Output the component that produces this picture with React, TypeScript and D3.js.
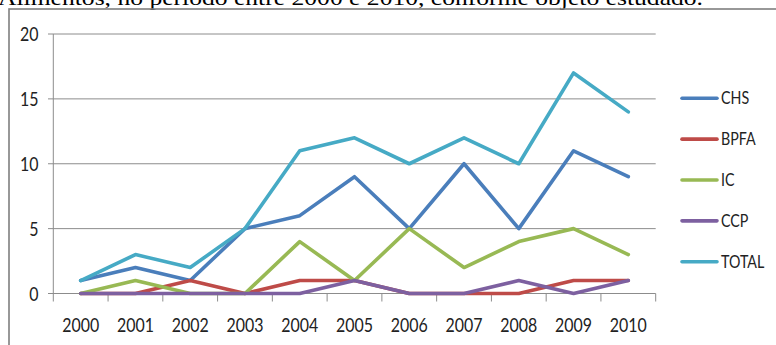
import React from "react";
import * as d3 from "d3";

const years = ["2000","2001","2002","2003","2004","2005","2006","2007","2008","2009","2010"];
const chs = [1,2,1,5,6,9,5,10,5,11,9];
const bpfa = [0,0,1,0,1,1,0,0,0,1,1];
const ic = [0,1,0,0,4,1,5,2,4,5,3];
const ccp = [0,0,0,0,0,1,0,0,1,0,1];
const total = [1,3,2,5,11,12,10,12,10,17,14];
const yTicks = [0,5,10,15,20];
const seriesNames = ["CHS","BPFA","IC","CCP","TOTAL"];
const seriesValues = [chs, bpfa, ic, ccp, total];
const colors = ["#4A7EBB","#BE4B48","#98B954","#7D60A0","#46AAC5"];
const caption = "Alimentos, no período entre 2000 e 2010, conforme objeto estudado.";

export default function App() {
  const W = 776, H = 345;
  const left = 53.3, right = 655.7, top = 34, bottom = 293.5;
  const x = d3.scaleBand<string>().domain(years).range([left, right]);
  const y = d3.scaleLinear().domain([0, 20]).range([bottom, top]);
  const line = d3.line<number>()
    .x((_, i) => (x(years[i]) as number) + x.bandwidth() / 2)
    .y((v) => y(v));
  const font = "Lato, 'Open Sans', sans-serif";
  const sx = 0.84;
  const grid = "#8C8C8C";
  const legendY = d3.scalePoint<string>().domain(seriesNames).range([98.3, 261.7]);
  const xTickPos = years.map((yr) => x(yr) as number).concat([right]);
  return (
    <svg width={W} height={H} style={{ position: "absolute", left: 0, top: 0, background: "#fff" }}>
      <text x={-2} y={5} fontFamily="'Liberation Serif', 'Times New Roman', serif" fontSize={22}
        textLength={705} lengthAdjust="spacingAndGlyphs" fill="#000">{caption}</text>
      <rect x={9} y={9} width={W} height={H} fill="none" stroke="#7F7F7F" strokeWidth={1.6} />
      {yTicks.map((t) => (
        <g key={t}>
          <line x1={48} x2={right} y1={y(t)} y2={y(t)} stroke={grid} strokeWidth={1} />
          <text transform={`translate(38.5,${y(t) + 7}) scale(${sx},1)`} textAnchor="end"
            fontFamily={font} fontSize={19} fill="#222">{t}</text>
        </g>
      ))}
      <line x1={left} x2={left} y1={top} y2={bottom} stroke={grid} strokeWidth={1} />
      {xTickPos.map((p, i) => (
        <line key={i} x1={p} x2={p} y1={bottom} y2={bottom + 8} stroke={grid} strokeWidth={1} />
      ))}
      {years.map((yr) => (
        <text key={yr} transform={`translate(${(x(yr) as number) + x.bandwidth() / 2},331.5) scale(${sx},1)`}
          textAnchor="middle" fontFamily={font} fontSize={19} fill="#222">{yr}</text>
      ))}
      {seriesValues.map((vals, i) => (
        <path key={seriesNames[i]} d={line(vals) || ""} fill="none" stroke={colors[i]}
          strokeWidth={3.6} strokeLinejoin="round" strokeLinecap="round" />
      ))}
      {seriesNames.map((n, i) => (
        <g key={n}>
          <line x1={682} x2={717} y1={legendY(n)} y2={legendY(n)} stroke={colors[i]} strokeWidth={3.6} strokeLinecap="round" />
          <text transform={`translate(721,${(legendY(n) as number) + 6}) scale(${sx},1)`}
            fontFamily={font} fontSize={17} fill="#222">{n}</text>
        </g>
      ))}
    </svg>
  );
}
